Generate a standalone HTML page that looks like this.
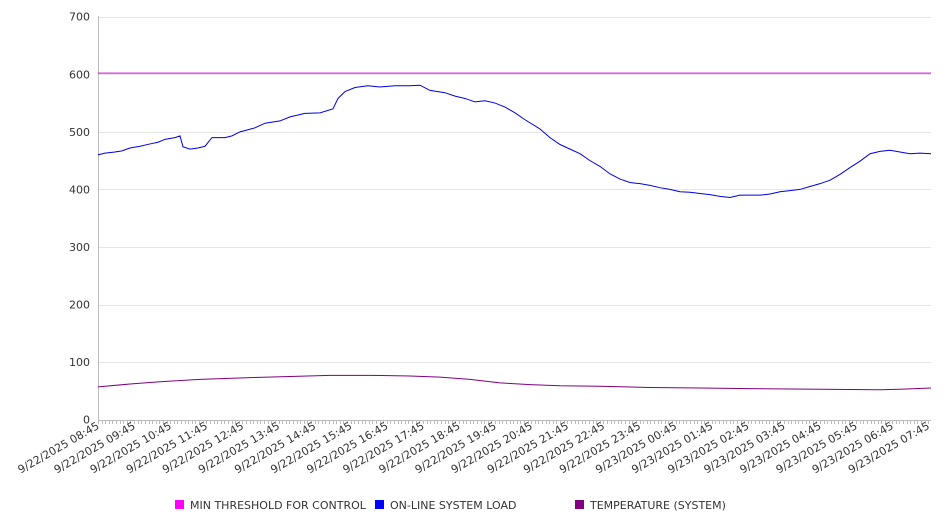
<!DOCTYPE html>
<html><head><meta charset="utf-8"><style>
body{margin:0;background:#fff;width:946px;height:526px;overflow:hidden}
svg{font-family:"DejaVu Sans","Liberation Sans",sans-serif;font-size:11px;fill:#333}
</style></head><body>
<svg id="s" width="946" height="526" xmlns="http://www.w3.org/2000/svg">
<g id="grid" stroke="#e6e6e6" stroke-width="1"></g>
<line x1="98.5" y1="16" x2="98.5" y2="420" stroke="#bbb"/>
<line x1="98" y1="420.5" x2="931" y2="420.5" stroke="#bbb"/>
<g id="ticks" stroke="#bbb"></g>
<g id="yl" text-anchor="end"></g>
<g id="xl" text-anchor="end"></g>
<g transform="translate(0,419.7) scale(1,-0.5757)" fill="none" stroke-width="1">
<line x1="98" y1="602" x2="931" y2="602" stroke="#d000d0" vector-effect="non-scaling-stroke"/>
<polyline vector-effect="non-scaling-stroke" stroke="#0000e0" points="98,460 105,463 115,465 122,467 130,472 140,475 150,479 158,482 165,487 175,490 180,493 183,474 190,470 198,472 205,475 212,490 225,490 232,493 240,500 255,507 265,515 280,519 290,526 305,532 320,533 333,540 338,558 345,570 355,577 368,580 380,578 395,580 410,580 420,581 430,572 445,568 455,562 465,558 475,552 485,554 495,550 505,543 515,533 525,521 540,505 550,490 560,478 570,470 580,462 590,450 600,440 610,427 620,418 630,412 640,410 650,407 660,403 670,400 680,396 690,395 700,393 710,391 720,388 730,386 740,390 750,390 760,390 770,392 780,396 790,398 800,400 810,405 820,410 830,416 840,426 850,438 860,449 870,462 880,466 890,468 900,465 910,462 920,463 931,462"/>
<polyline vector-effect="non-scaling-stroke" stroke="#800080" points="98,57 130,62 160,66 200,70 250,73 290,75 330,77 370,77 410,76 440,74 470,70 500,64 530,61 560,59 600,58 650,56 700,55 750,54 820,53 880,52 900,53 931,55"/>
</g>
<rect x="175" y="500" width="9" height="9" fill="#ff00ff"/>
<text x="190" y="509">MIN THRESHOLD FOR CONTROL</text>
<rect x="375" y="500" width="9" height="9" fill="#0000ff"/>
<text x="390" y="509">ON-LINE SYSTEM LOAD</text>
<rect x="575" y="500" width="9" height="9" fill="#800080"/>
<text x="590" y="509">TEMPERATURE (SYSTEM)</text>
</svg>
<script>
var ns="http://www.w3.org/2000/svg";
function el(p,t,a,txt){var e=document.createElementNS(ns,t);for(var k in a)e.setAttribute(k,a[k]);if(txt)e.textContent=txt;document.getElementById(p).appendChild(e);}
for(var i=1;i<=7;i++){var y=419.7-i*57.57;el("grid","line",{x1:99,x2:931,y1:Math.round(y)+.5,y2:Math.round(y)+.5});}
for(var i=0;i<=7;i++){var y=419.7-i*57.57;el("yl","text",{x:90,y:y+4},String(i*100));}
var h=["08","09","10","11","12","13","14","15","16","17","18","19","20","21","22","23","00","01","02","03","04","05","06","07"];
var sp=36.1;
for(var i=0;i<24;i++){var x=98+i*sp;var d=i<16?"9/22/2025 ":"9/23/2025 ";
el("xl","text",{transform:"translate("+(x+2)+",428) rotate(-30)"},d+h[i]+":45");}
for(var x=98;x<=931;x+=sp/10){el("ticks","line",{x1:Math.round(x)+.5,x2:Math.round(x)+.5,y1:420,y2:424});}
</script>
</body></html>
